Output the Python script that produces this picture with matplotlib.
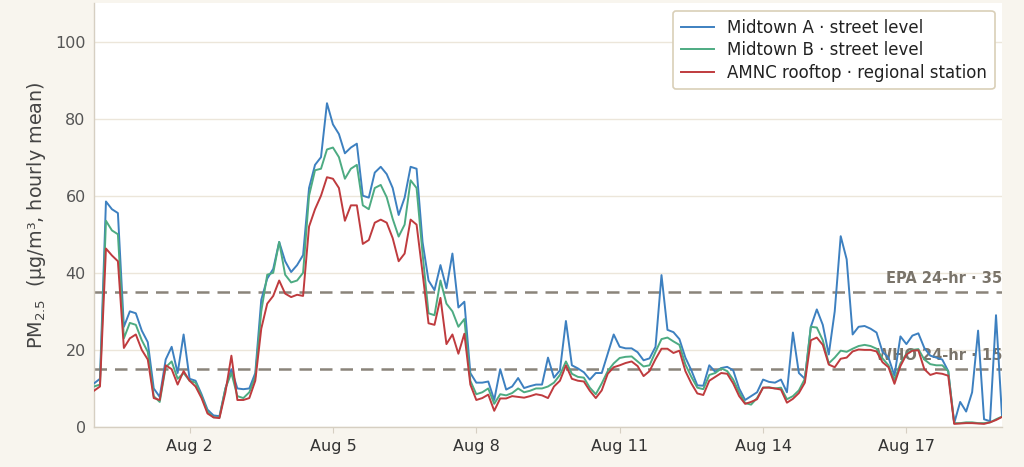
import matplotlib
matplotlib.use("Agg")
import matplotlib.pyplot as plt
import pandas as pd
import numpy as np

# ---- data: 3-hourly PM2.5 readings, Jul 31 00:00 -> Aug 19 00:00 ----
start_time = "2024-07-31 00:00"
step = "3h"

midtown_a = [
    11.3, 12.5, 58.5, 56.5, 55.5, 26.0, 30.0, 29.5, 25.0, 22.0,
    10.0, 7.8, 17.5, 20.8, 14.0, 24.0, 12.5, 12.0, 8.5, 4.5,
    3.0, 2.8, 10.0, 15.0, 10.0, 9.8, 10.0, 14.0, 33.0, 38.5,
    41.0, 48.0, 43.0, 40.2, 42.0, 44.6, 62.0, 68.0, 70.0, 84.0,
    78.5, 76.0, 71.0, 72.5, 73.5, 60.0, 59.5, 66.0, 67.5, 65.6,
    62.0, 55.0, 59.5, 67.5, 67.0, 48.0, 38.0, 35.5, 42.0, 36.0,
    45.0, 31.0, 32.5, 14.0, 11.5, 11.5, 11.8, 7.0, 15.0, 9.7,
    10.5, 12.7, 10.1, 10.6, 11.0, 11.0, 18.0, 12.8, 14.7, 27.5,
    16.0, 15.2, 14.2, 12.3, 14.0, 14.0, 19.0, 24.0, 20.8, 20.4,
    20.4, 19.4, 17.3, 17.8, 20.8, 39.4, 25.2, 24.6, 22.8, 18.0,
    14.7, 10.8, 10.7, 16.0, 14.3, 15.3, 15.6, 14.7, 10.0, 7.0,
    8.0, 9.0, 12.3, 11.7, 11.5, 12.3, 9.0, 24.5, 14.0, 12.5,
    26.0, 30.5, 26.5, 18.8, 30.0, 49.5, 43.5, 24.0, 26.0, 26.2,
    25.5, 24.5, 19.5, 18.0, 13.3, 23.5, 21.5, 23.7, 24.3, 20.5,
    18.5, 18.0, 17.5, 14.5, 1.0, 6.5, 4.0, 9.0, 25.0, 2.0,
    1.5, 29.0, 2.9,
]

midtown_b = [
    10.5, 11.0, 53.5, 51.0, 50.0, 23.0, 27.0, 26.5, 22.5, 19.5,
    8.0, 6.5, 15.5, 17.0, 12.5, 14.0, 12.0, 11.5, 8.0, 4.0,
    2.5, 2.5, 10.0, 14.0, 8.0, 7.5, 9.0, 13.0, 30.0, 39.5,
    40.0, 48.0, 39.5, 37.5, 38.0, 40.0, 60.0, 66.6, 67.0, 72.0,
    72.5, 70.0, 64.4, 67.0, 68.0, 57.5, 56.5, 62.0, 62.8, 59.6,
    54.0, 49.4, 52.5, 64.0, 62.0, 45.0, 29.5, 29.0, 38.0, 32.0,
    30.0, 26.0, 28.0, 12.0, 8.5, 9.0, 10.0, 6.0, 8.5, 8.2,
    8.8, 10.0, 9.0, 9.4, 10.0, 10.0, 10.5, 11.5, 13.5, 17.0,
    13.8, 13.0, 12.8, 10.2, 8.5, 11.3, 14.5, 16.5, 17.9, 18.2,
    18.3, 17.0, 15.7, 16.0, 19.5, 22.8, 23.2, 22.2, 21.3, 16.2,
    13.0, 10.2, 9.8, 13.5, 14.0, 15.2, 14.5, 12.3, 9.0, 6.2,
    5.8, 7.5, 10.2, 10.3, 10.0, 10.2, 7.2, 8.0, 9.5, 12.5,
    26.0, 25.8, 22.5, 16.5, 18.0, 19.8, 19.5, 20.3, 21.0, 21.3,
    21.0, 20.3, 17.8, 16.0, 12.2, 16.5, 19.0, 20.0, 20.2, 17.5,
    16.3, 16.0, 16.0, 14.5, 1.0, 1.0, 1.2, 1.2, 1.0, 1.0,
    1.2, 2.0, 2.7,
]

amnc_rooftop = [
    9.4, 10.5, 46.3, 44.5, 43.0, 20.5, 23.0, 24.0, 20.0, 17.5,
    7.5, 7.0, 16.0, 15.0, 11.0, 14.5, 12.0, 10.5, 7.5, 3.5,
    2.5, 2.3, 9.0, 18.5, 7.0, 7.0, 7.5, 12.0, 25.5, 32.0,
    34.0, 38.0, 34.6, 33.7, 34.3, 34.0, 52.0, 56.5, 60.0, 64.8,
    64.4, 62.0, 53.5, 57.5, 57.5, 47.5, 48.5, 53.0, 53.8, 53.0,
    49.0, 43.0, 45.0, 53.8, 52.5, 40.0, 26.9, 26.5, 33.5, 21.5,
    24.0, 19.0, 24.2, 11.0, 7.0, 7.5, 8.4, 4.2, 7.4, 7.4,
    8.0, 7.8, 7.6, 8.0, 8.5, 8.2, 7.5, 10.5, 12.0, 16.0,
    12.5, 12.0, 11.8, 9.4, 7.5, 9.5, 13.8, 15.5, 16.0, 16.6,
    17.0, 15.8, 13.2, 14.5, 17.6, 20.3, 20.3, 19.2, 19.8, 14.5,
    11.3, 8.7, 8.3, 12.0, 13.0, 14.0, 13.8, 11.3, 8.0, 6.0,
    6.5, 7.2, 10.2, 10.2, 10.0, 9.7, 6.3, 7.3, 8.8, 11.5,
    22.5, 23.2, 21.3, 16.2, 15.5, 17.7, 18.0, 19.6, 20.1, 20.0,
    20.0, 19.6, 16.8, 15.5, 11.2, 15.8, 18.8, 19.8, 19.9, 15.0,
    13.5, 14.0, 13.8, 13.3, 0.8, 0.9, 1.0, 1.0, 0.9, 0.8,
    1.2, 1.8, 2.6,
]

series_names = [
    "Midtown A · street level",
    "Midtown B · street level",
    "AMNC rooftop · regional station",
]
series_colors = ["#3d80c0", "#4dab82", "#bf3b3e"]

tick_dates = ["2024-08-02", "2024-08-05", "2024-08-08", "2024-08-11",
              "2024-08-14", "2024-08-17"]
tick_labels = ["Aug 2", "Aug 5", "Aug 8", "Aug 11", "Aug 14", "Aug 17"]
y_ticks = [0, 20, 40, 60, 80, 100]

thresholds = [35, 15]
threshold_labels = ["EPA 24-hr · 35", "WHO 24-hr · 15"]

# ---- plot ----
times = pd.date_range(start_time, periods=len(midtown_a), freq=step)

bg = "#f8f5ee"
fig = plt.figure(figsize=(10.24, 4.67), dpi=100, facecolor=bg)
ax = fig.add_axes([0.0918, 0.0857, 0.8867, 0.9079])
ax.set_facecolor("white")

for vals, name, col in zip([midtown_a, midtown_b, amnc_rooftop], series_names, series_colors):
    ax.plot(times, vals, color=col, lw=1.4, label=name, zorder=3)

thr_color = "#8a847a"
for t, lab in zip(thresholds, threshold_labels):
    ax.axhline(t, color=thr_color, lw=1.8, ls=(0, (5, 3.2)), zorder=2)
    ax.text(1.0, t + 1.6, lab, transform=ax.get_yaxis_transform(),
            ha="right", va="bottom", fontsize=10.5, fontweight="bold",
            color="#7a746a", zorder=2.5)

ax.set_xlim(times[0], times[-1])
ax.set_ylim(0, 110)
ax.set_yticks(y_ticks)
ax.set_xticks(pd.to_datetime(tick_dates))
ax.set_xticklabels(tick_labels)

ax.grid(axis="y", color="#ece6da", lw=1.0, zorder=0)
ax.set_axisbelow(True)
for s in ["top", "right"]:
    ax.spines[s].set_visible(False)
for s in ["left", "bottom"]:
    ax.spines[s].set_color("#d6cfc2")
    ax.spines[s].set_linewidth(1.0)

ax.tick_params(axis="y", length=0, labelsize=11.5, labelcolor="#555555", pad=6)
ax.tick_params(axis="x", length=4, color="#d6cfc2", labelsize=11.5,
               labelcolor="#333333", pad=5)

ax.set_ylabel("PM$_{2.5}$  (µg/m³, hourly mean)", fontsize=13.8, color="#444444",
              labelpad=5)

leg = ax.legend(loc="upper right", fontsize=12, frameon=True, fancybox=True,
                borderpad=0.45, handlelength=2.0, handletextpad=0.8,
                labelspacing=0.28, bbox_to_anchor=(1.001, 1.0005))
leg.get_frame().set_edgecolor("#d9cfb8")
leg.get_frame().set_facecolor("white")
leg.get_frame().set_linewidth(1.2)
leg.get_frame().set_alpha(1.0)
for txt in leg.get_texts():
    txt.set_color("#222222")

fig.savefig("out.png", dpi=100, facecolor=bg)
